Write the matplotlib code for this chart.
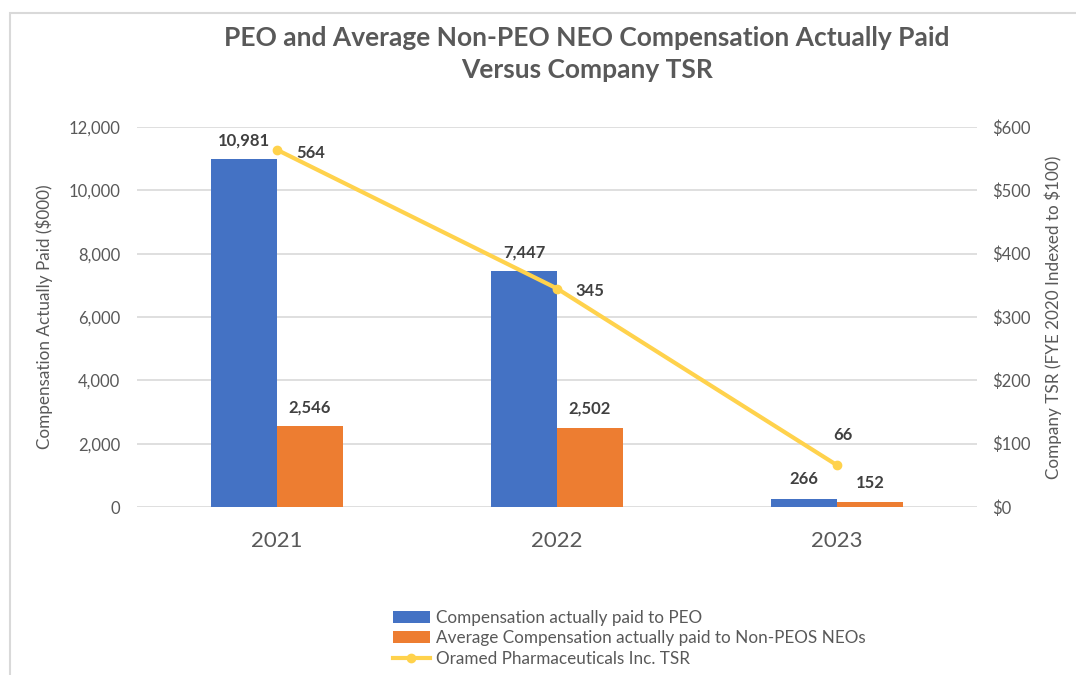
import matplotlib
matplotlib.use("Agg")
import matplotlib.pyplot as plt
from matplotlib.patches import Rectangle
import numpy as np

years = ["2021", "2022", "2023"]
peo_cap = [10981, 7447, 266]
neo_cap = [2546, 2502, 152]
tsr = [564, 345, 66]

BLUE = "#4472C4"
ORANGE = "#ED7D31"
GOLD = "#FFD24C"
GRAY = "#595959"
DARK = "#404040"

plt.rcParams['font.family'] = ['Lato', 'DejaVu Sans']

fig = plt.figure(figsize=(10.76, 6.75), dpi=100)
ax = fig.add_axes([137/1076, 1-507/675, 840/1076, 380/675])
ax2 = ax.twinx()

x = np.arange(len(years))
w = 0.236
b1 = ax.bar(x - w/2, peo_cap, w, color=BLUE, label="Compensation actually paid to PEO", zorder=2)
b2 = ax.bar(x + w/2, neo_cap, w, color=ORANGE, label="Average Compensation actually paid to Non-PEOS NEOs", zorder=2)
ln, = ax2.plot(x, tsr, color=GOLD, lw=3, marker='o', ms=6, label="Oramed Pharmaceuticals Inc. TSR", zorder=3)

ax.set_xlim(-0.5, 2.5)
ax.set_ylim(0, 12000)
ax2.set_ylim(0, 600)
ax.set_yticks(np.arange(0, 12001, 2000))
ax.set_yticklabels([f"{v:,}" for v in np.arange(0, 12001, 2000)])
ax2.set_yticks(np.arange(0, 601, 100))
ax2.set_yticklabels([f"${v}" for v in np.arange(0, 601, 100)])
ax.set_xticks(x)
ax.set_xticklabels(years, color=GRAY)
ax.grid(axis='y', color="#D9D9D9", lw=1.2, zorder=0)
ax.set_axisbelow(True)
for a in (ax, ax2):
    for s in a.spines.values():
        s.set_visible(False)
    a.tick_params(length=0, colors=GRAY, labelsize=12)
ax.tick_params(axis='y', pad=12)
ax2.tick_params(axis='y', pad=11)
ax.tick_params(axis='x', pad=17, labelsize=16)

ax.set_ylabel("Compensation Actually Paid ($000)", fontsize=12.3, color=GRAY, labelpad=11)
ax2.set_ylabel("Company TSR (FYE 2020 Indexed to $100)", fontsize=12.3, color=GRAY, labelpad=10)

# bar labels
for xi, v in zip(x, peo_cap):
    ax.annotate(f"{v:,}", (xi - w/2, v), xytext=(0, 8), textcoords='offset points',
                ha='center', va='bottom', fontsize=12, fontweight='bold', color=DARK)
for xi, v in zip(x, neo_cap):
    ax.annotate(f"{v:,}", (xi + w/2, v), xytext=(0, 8), textcoords='offset points',
                ha='center', va='bottom', fontsize=12, fontweight='bold', color=DARK)
# line labels
offs = [(24, -2), (24, -2), (4, 22)]
for xi, v, (dx, dy) in zip(x, tsr, offs):
    ax2.annotate(f"{v}", (xi, v), xytext=(dx, dy), textcoords='offset points',
                 ha='center', va='center', fontsize=12, fontweight='bold', color=DARK)

fig.suptitle("PEO and Average Non-PEO NEO Compensation Actually Paid\nVersus Company TSR",
             x=587/1076, y=1-26/675, va='top', fontsize=19, fontweight='bold', color=GRAY,
             linespacing=1.38)

leg = fig.legend(handles=[b1, b2, ln], loc='upper left', bbox_to_anchor=(384/1076, 1-601/675),
                 frameon=False, fontsize=12.3, handlelength=2.2, handletextpad=0.35,
                 labelspacing=0.28, borderpad=0)
for t in leg.get_texts():
    t.set_color(GRAY)

fig.patches.append(Rectangle((10/1076, -0.1), 1.2, 1.1 - 13/675, transform=fig.transFigure,
                             fill=False, edgecolor="#D9D9D9", lw=1.5))

fig.savefig("out.png", dpi=100)
